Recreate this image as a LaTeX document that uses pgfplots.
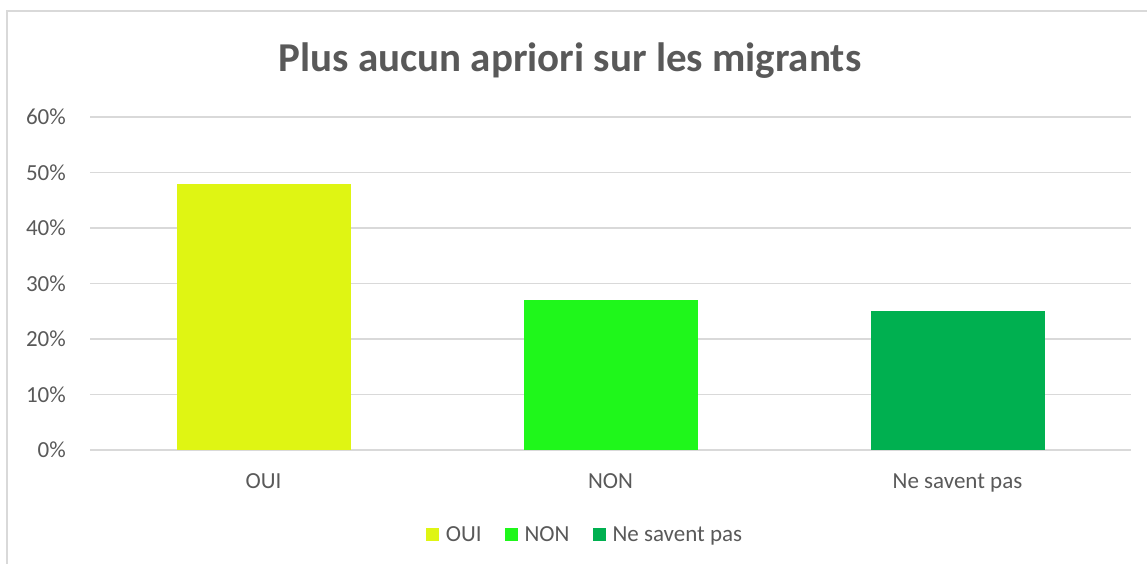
\documentclass[border=0pt]{standalone}
\usepackage{pgfplots}
\pgfplotsset{compat=1.18}
\usepackage{fontspec}
\setmainfont{Carlito}
\definecolor{txt}{HTML}{595959}
\definecolor{gridc}{HTML}{D9D9D9}
\definecolor{cOui}{HTML}{DFF513}
\definecolor{cNon}{HTML}{1FF71B}
\definecolor{cNsp}{HTML}{00B050}
\begin{document}
\begin{tikzpicture}[x=1pt,y=1pt]
\path[use as bounding box] (0,0) rectangle (1147,564);
\draw[gridc, line width=1.2pt] (7,0) -- (7,553) -- (1147,553);
\node[anchor=base, text=txt, font=\fontsize{41}{48}\selectfont\bfseries] at (570,492) {Plus aucun apriori sur les migrants};
\begin{axis}[
  at={(90pt,114pt)}, anchor=south west,
  scale only axis, width=1041pt, height=333pt,
  ybar, bar width=174pt,
  xmin=-0.5, xmax=2.5, ymin=0, ymax=60,
  xtick={0,1,2}, xticklabels={OUI,NON,Ne savent pas},
  ytick={0,10,20,30,40,50,60},
  yticklabel={\pgfmathprintnumber[assume math mode=true]{\tick}\%},
  xmajorgrids=false, ymajorgrids=true, major grid style={draw=gridc, line width=1.5pt},
  axis line style={draw=none},
  major tick length=0pt,
  tick label style={text=txt, font=\fontsize{23}{27}\selectfont},
  yticklabel style={anchor=east, inner sep=0pt, xshift=-24pt},
  xticklabel style={anchor=base, inner sep=0pt, yshift=-38pt},
  legend style={at={(0.4755,-0.255)}, anchor=center, draw=none, fill=none,
    legend columns=-1, font=\fontsize{23}{27}\selectfont, text=txt,
    /tikz/every odd column/.append style={column sep=5pt},
    /tikz/every even column/.append style={column sep=21pt}},
  legend image code/.code={\fill[#1] (0pt,-6.5pt) rectangle (13pt,6.5pt);},
]
\addplot[fill=cOui, draw=none, bar shift=0pt] coordinates {(0,48)};
\addplot[fill=cNon, draw=none, bar shift=0pt] coordinates {(1,27)};
\addplot[fill=cNsp, draw=none, bar shift=0pt] coordinates {(2,25)};
\legend{OUI,NON,Ne savent pas}
\end{axis}
\end{tikzpicture}
\end{document}
